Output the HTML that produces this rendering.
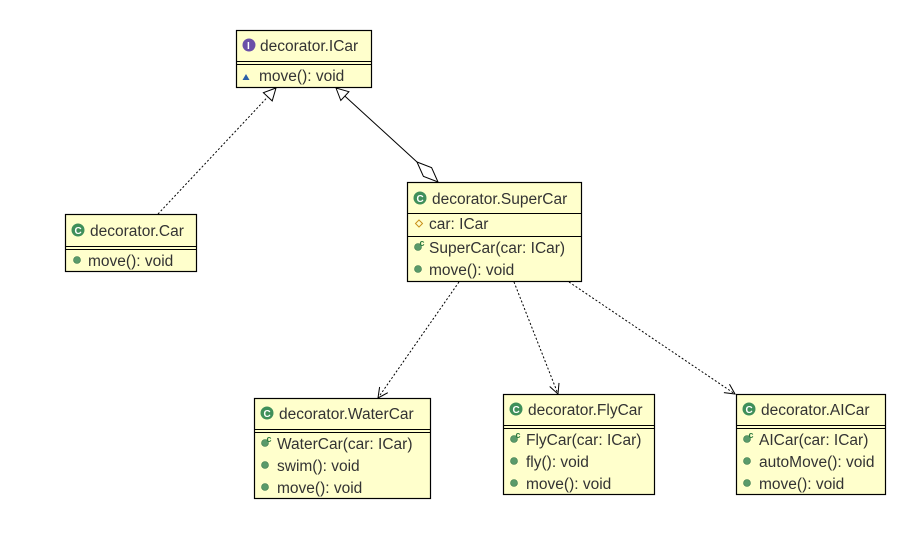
<!DOCTYPE html>
<html><head><meta charset="utf-8"><style>
html,body{margin:0;padding:0;background:#fff;}
svg{display:block;}
text{font-family:"Liberation Sans",sans-serif;font-size:15.5px;fill:#333;}
.ct{font-size:10px;font-weight:bold;fill:#fff;}
</style></head><body>
<svg width="921" height="558" viewBox="0 0 921 558" xmlns="http://www.w3.org/2000/svg">
<defs>
<g id="cls"><circle r="6.5" fill="#3f8f5a"/><text class="ct" x="-3.5" y="3.8">C</text></g>
<g id="m"><circle r="3.5" fill="#5a9a6a" stroke="#3d7a4d" stroke-width="0.6"/></g>
<g id="ctor"><circle r="3.5" fill="#5a9a6a" stroke="#3d7a4d" stroke-width="0.6"/><text x="1.5" y="-1" style="font-size:9px;font-weight:bold;fill:#2d7a3d">c</text></g>
</defs>
<g fill="#ffffcc" stroke="#000" stroke-width="1.2">
<rect x="236.5" y="30.5" width="135" height="57"/>
<rect x="65.5" y="214.5" width="131" height="57"/>
<rect x="407.5" y="182.5" width="174" height="99"/>
<rect x="254.5" y="398.5" width="176" height="100"/>
<rect x="503.5" y="394.5" width="151" height="100"/>
<rect x="736.5" y="394.5" width="149" height="100"/>
</g>
<g stroke="#000" stroke-width="1">
<line x1="236" y1="61.5" x2="372" y2="61.5"/><line x1="236" y1="64.5" x2="372" y2="64.5"/>
<line x1="65" y1="246.5" x2="197" y2="246.5"/><line x1="65" y1="249.5" x2="197" y2="249.5"/>
<line x1="407" y1="213.5" x2="582" y2="213.5"/><line x1="407" y1="236.5" x2="582" y2="236.5"/>
<line x1="254" y1="429.5" x2="431" y2="429.5"/><line x1="254" y1="432.5" x2="431" y2="432.5"/>
<line x1="503" y1="425.5" x2="655" y2="425.5"/><line x1="503" y1="428.5" x2="655" y2="428.5"/>
<line x1="736" y1="425.5" x2="886" y2="425.5"/><line x1="736" y1="428.5" x2="886" y2="428.5"/>
</g>
<g stroke="#000" stroke-width="1" fill="none">
<line x1="158" y1="214" x2="267.8" y2="96.8" stroke-dasharray="2,2"/>
<polygon points="276,88 272.2,100.9 263.4,92.7" fill="#fff"/>
<line x1="417" y1="162" x2="344.9" y2="96.1"/>
<polygon points="336,88 340.8,100.5 348.9,91.7" fill="#fff"/>
<polygon points="417,162 431.6,167.7 438,182 423.4,176.3" fill="#fff"/>
<line x1="459" y1="282" x2="378" y2="398" stroke-dasharray="2,2"/>
<polyline points="387.8,392.7 378,398 379.6,387"/>
<line x1="514" y1="282" x2="558" y2="394" stroke-dasharray="2,2"/>
<polyline points="559,382.9 558,394 549.7,386.5"/>
<line x1="569" y1="282" x2="735" y2="394" stroke-dasharray="2,2"/>
<polyline points="729.5,384.3 735,394 723.9,392.6"/>
</g>
<circle cx="249" cy="45" r="6.5" fill="#6a4fa8"/><text class="ct" x="247" y="48.8">I</text>
<text x="260" y="51">decorator.ICar</text>
<polygon points="242.5,80 249.5,80 246,74" fill="#2a5fa8"/>
<text x="259" y="81">move(): void</text>
<use href="#cls" x="78" y="230"/><text x="90" y="236">decorator.Car</text>
<use href="#m" x="77" y="260"/><text x="88" y="266">move(): void</text>
<use href="#cls" x="420" y="198"/><text x="432" y="204">decorator.SuperCar</text>
<polygon points="419,220 422.5,223.5 419,227 415.5,223.5" fill="none" stroke="#c8901a" stroke-width="1"/>
<text x="429" y="229">car: ICar</text>
<use href="#ctor" x="418" y="247"/><text x="429" y="253">SuperCar(car: ICar)</text>
<use href="#m" x="418" y="269"/><text x="429" y="275">move(): void</text>
<use href="#cls" x="267" y="413"/><text x="279" y="419">decorator.WaterCar</text>
<use href="#ctor" x="265" y="443"/><text x="277" y="449">WaterCar(car: ICar)</text>
<use href="#m" x="265" y="465"/><text x="277" y="471">swim(): void</text>
<use href="#m" x="265" y="487"/><text x="277" y="493">move(): void</text>
<use href="#cls" x="516" y="409"/><text x="528" y="415">decorator.FlyCar</text>
<use href="#ctor" x="514" y="439"/><text x="526" y="445">FlyCar(car: ICar)</text>
<use href="#m" x="514" y="461"/><text x="526" y="467">fly(): void</text>
<use href="#m" x="514" y="483"/><text x="526" y="489">move(): void</text>
<use href="#cls" x="749" y="409"/><text x="761" y="415">decorator.AICar</text>
<use href="#ctor" x="747" y="439"/><text x="759" y="445">AICar(car: ICar)</text>
<use href="#m" x="747" y="461"/><text x="759" y="467">autoMove(): void</text>
<use href="#m" x="747" y="483"/><text x="759" y="489">move(): void</text>
</svg>
</body></html>
